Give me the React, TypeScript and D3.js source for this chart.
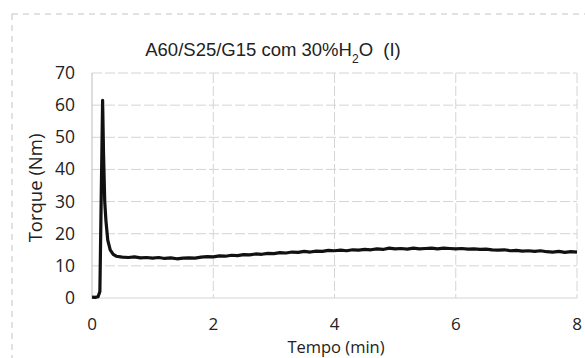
import React from "react";
import * as d3 from "d3";

const timeMin: number[] = [
  0, 0.05, 0.1, 0.13, 0.175, 0.19, 0.21, 0.23, 0.26, 0.3, 0.35, 0.4, 0.5, 0.6, 0.7, 0.8, 0.9,
  1.0, 1.1, 1.2, 1.3, 1.4, 1.5, 1.6, 1.7, 1.8, 1.9, 2.0, 2.1, 2.2, 2.3, 2.4, 2.5, 2.6, 2.7,
  2.8, 2.9, 3.0, 3.1, 3.2, 3.3, 3.4, 3.5, 3.6, 3.7, 3.8, 3.9, 4.0, 4.1, 4.2, 4.3, 4.4, 4.5,
  4.6, 4.7, 4.8, 4.9, 5.0, 5.1, 5.2, 5.3, 5.4, 5.5, 5.6, 5.7, 5.8, 5.9, 6.0, 6.1, 6.2, 6.3,
  6.4, 6.5, 6.6, 6.7, 6.8, 6.9, 7.0, 7.1, 7.2, 7.3, 7.4, 7.5, 7.6, 7.7, 7.8, 7.9, 8.0,
];
const torqueNm: number[] = [
  0.3, 0.2, 0.4, 2, 61.5, 45, 30, 24, 18, 15, 13.6, 13, 12.7, 12.6, 12.8, 12.5, 12.6,
  12.4, 12.6, 12.3, 12.5, 12.2, 12.4, 12.5, 12.4, 12.7, 12.9, 12.8, 13.1, 13.0, 13.3, 13.2, 13.5, 13.4, 13.7,
  13.6, 13.9, 13.8, 14.1, 14.0, 14.3, 14.2, 14.5, 14.3, 14.6, 14.5, 14.8, 14.7, 14.9, 14.7, 15.0, 14.9, 15.1,
  15.0, 15.3, 15.1, 15.5, 15.3, 15.4, 15.2, 15.5, 15.3, 15.4, 15.5, 15.3, 15.5, 15.4, 15.3, 15.4, 15.2, 15.3,
  15.1, 15.2, 15.0, 14.9, 15.0, 14.7, 14.8, 14.6, 14.7, 14.5, 14.7, 14.4, 14.3, 14.5, 14.2, 14.4, 14.3,
];
const xTicks: number[] = [0, 2, 4, 6, 8];
const yTicks: number[] = [0, 10, 20, 30, 40, 50, 60, 70];

export default function App() {
  const W = 585, H = 358;
  const left = 92, right = 577, top = 73, bottom = 298;
  const x = d3.scaleLinear().domain([0, 8]).range([left, right]);
  const y = d3.scaleLinear().domain([0, 70]).range([bottom, top]);
  const pts = timeMin.map((t, i) => [t, torqueNm[i]] as [number, number]);
  const line = d3.line<[number, number]>().x(d => x(d[0])).y(d => y(d[1]));
  const tickFont = "'Open Sans', Lato, sans-serif";
  return (
    <svg width={W} height={H} style={{ position: "absolute", left: 0, top: 0, background: "#fff" }}>
      <rect x={12} y={14} width={600} height={360} fill="none" stroke="#c4c4c4" strokeDasharray="6 5" strokeWidth={1} />
      {yTicks.map(v => (
        <line key={"gy" + v} x1={left} x2={right} y1={y(v)} y2={y(v)} stroke="#d4d4d4" strokeWidth={1} strokeDasharray={v === 0 ? undefined : "10 3"} />
      ))}
      {xTicks.map(v => (
        <line key={"gx" + v} x1={x(v)} x2={x(v)} y1={top} y2={bottom} stroke={v === 0 ? "#bdbdbd" : "#d4d4d4"} strokeWidth={1} strokeDasharray={v === 0 ? undefined : "10 3"} />
      ))}
      <path d={line(pts) || ""} fill="none" stroke="#111" strokeWidth={3.2} strokeLinejoin="round" />
      {yTicks.map(v => (
        <text key={"ty" + v} x={75} y={y(v) + 6} textAnchor="end" fontFamily={tickFont} fontSize={17.5} fill="#222">{v}</text>
      ))}
      {xTicks.map(v => (
        <text key={"tx" + v} x={x(v)} y={330} textAnchor="middle" fontFamily={tickFont} fontSize={17} fill="#222">{v}</text>
      ))}
      <text x={336} y={353} textAnchor="middle" fontFamily={tickFont} fontSize={16.5} fill="#222">Tempo (min)</text>
      <text transform={`translate(42,188) rotate(-90)`} textAnchor="middle" fontFamily={tickFont} fontSize={18.5} fill="#222">Torque (Nm)</text>
      <text x={273} y={56} textAnchor="middle" fontFamily="'Liberation Sans', Arial, sans-serif" fontSize={18.5} fill="#222">
        A60/S25/G15 com 30%H<tspan baselineShift="sub" fontSize={12}>2</tspan>O{"\u00a0\u00a0"}(I)
      </text>
    </svg>
  );
}
